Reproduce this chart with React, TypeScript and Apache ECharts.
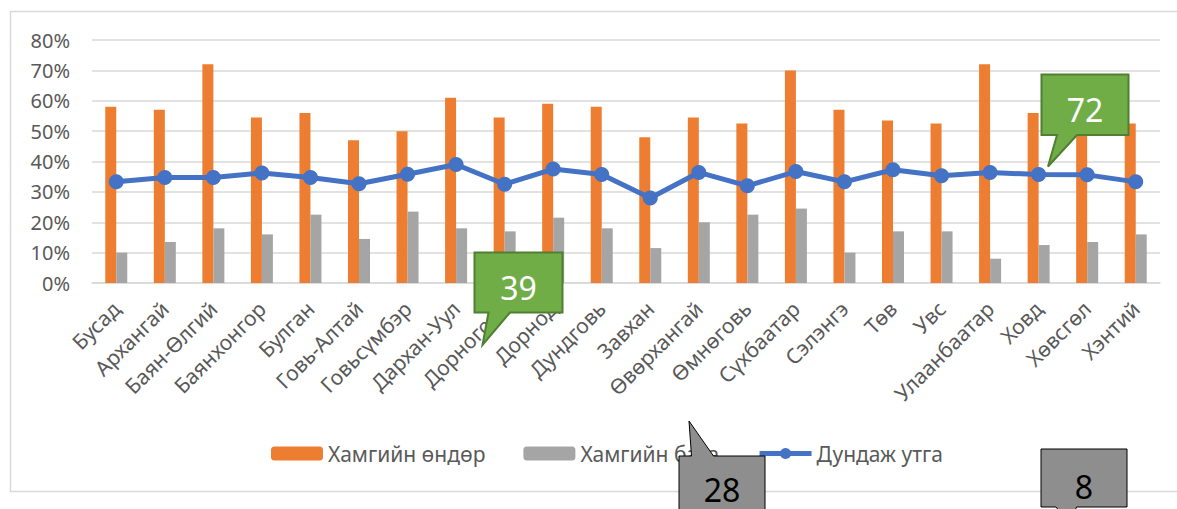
import React, { useEffect, useRef } from "react";
import * as echarts from "echarts";

const categories = [
  "Бусад", "Архангай", "Баян-Өлгий", "Баянхонгор", "Булган", "Говь-Алтай",
  "Говьсүмбэр", "Дархан-Уул", "Дорноговь", "Дорнод", "Дундговь", "Завхан",
  "Өвөрхангай", "Өмнөговь", "Сүхбаатар", "Сэлэнгэ", "Төв", "Увс",
  "Улаанбаатар", "Ховд", "Хөвсгөл", "Хэнтий",
];
const maxValues = [58, 57, 72, 54.5, 56, 47, 50, 61, 54.5, 59, 58, 48, 54.5, 52.5, 70, 57, 53.5, 52.5, 72, 56, 56, 52.5];
const minValues = [10, 13.5, 18, 16, 22.5, 14.5, 23.5, 18, 17, 21.5, 18, 11.5, 20, 22.5, 24.5, 10, 17, 17, 8, 12.5, 13.5, 16];
const avgValues = [33.3, 34.7, 34.7, 36.2, 34.7, 32.7, 35.8, 39, 32.5, 37.5, 35.7, 28, 36.4, 32, 36.7, 33.3, 37.3, 35.3, 36.4, 35.7, 35.6, 33.3];
const seriesNames = ["Хамгийн өндөр", "Хамгийн бага", "Дундаж утга"];
const yTicks = { min: 0, max: 80, interval: 10 };
const calloutTexts = ["39", "72", "28", "8"];

const FONT = "'Noto Sans', sans-serif";
const TEXT = "#595959";

export default function App() {
  const ref = useRef<HTMLDivElement>(null);
  useEffect(() => {
    if (!ref.current) return;
    const chart = echarts.init(ref.current, null, { renderer: "svg" });
    const green = { fill: "#70AD47", stroke: "#507E32", lineWidth: 2 };
    const gray = { fill: "#8E8E8E", stroke: "#000000", lineWidth: 1 };
    chart.setOption({
      animation: false,
      textStyle: { fontFamily: FONT },
      grid: { left: 92, right: 17, top: 40, bottom: 226, containLabel: false },
      legend: {
        left: 266,
        top: 438,
        itemGap: 38,
        itemWidth: 52,
        itemHeight: 14,
        textStyle: { color: TEXT, fontSize: 21, fontFamily: FONT },
        data: [
          { name: seriesNames[0] },
          { name: seriesNames[1] },
          { name: seriesNames[2], lineStyle: { width: 5, color: "#4472C4" } },
        ],
      },
      xAxis: {
        type: "category",
        data: categories,
        axisLine: { lineStyle: { color: "#D9D9D9", width: 1.5 } },
        axisTick: { show: false },
        axisLabel: {
          rotate: 45,
          color: TEXT,
          fontSize: 21,
          fontFamily: FONT,
          margin: 22,
          interval: 0,
        },
      },
      yAxis: {
        type: "value",
        min: yTicks.min,
        max: yTicks.max,
        interval: yTicks.interval,
        axisLine: { show: false },
        axisTick: { show: false },
        splitLine: { lineStyle: { color: "#D9D9D9", width: 1.5 } },
        axisLabel: {
          formatter: "{value}%",
          color: TEXT,
          fontSize: 20,
          fontFamily: FONT,
          margin: 22,
        },
      },
      series: [
        {
          name: seriesNames[0],
          type: "bar",
          data: maxValues,
          barWidth: 11,
          barGap: "0%",
          itemStyle: { color: "#ED7D31" },
        },
        {
          name: seriesNames[1],
          type: "bar",
          data: minValues,
          barWidth: 11,
          barGap: "0%",
          itemStyle: { color: "#A5A5A5" },
        },
        {
          name: seriesNames[2],
          type: "line",
          data: avgValues,
          symbol: "circle",
          symbolSize: 15,
          itemStyle: { color: "#4472C4" },
          lineStyle: { color: "#4472C4", width: 5 },
          z: 5,
        },
      ],
      graphic: [
        {
          type: "rect",
          z: 0,
          silent: true,
          shape: { x: 10.5, y: 11.5, width: 1200, height: 480 },
          style: { fill: "none", stroke: "#D9D9D9", lineWidth: 1.5 },
        },
        {
          type: "polygon",
          z: 100,
          shape: {
            points: [
              [474.5, 252.5], [562.5, 252.5], [562.5, 312.5], [510, 312.5],
              [482.5, 345], [488.5, 312.5], [474.5, 312.5],
            ],
          },
          style: green,
        },
        {
          type: "text",
          z: 101,
          x: 518.5,
          y: 287,
          style: {
            text: calloutTexts[0], fill: "#FFFFFF", fontSize: 32, fontFamily: FONT,
            align: "center", verticalAlign: "middle",
          },
        },
        {
          type: "polygon",
          z: 100,
          shape: {
            points: [
              [1041.5, 74.5], [1128.5, 74.5], [1128.5, 135], [1077, 135],
              [1048, 166.5], [1057, 135], [1041.5, 135],
            ],
          },
          style: green,
        },
        {
          type: "text",
          z: 101,
          x: 1085,
          y: 109,
          style: {
            text: calloutTexts[1], fill: "#FFFFFF", fontSize: 32, fontFamily: FONT,
            align: "center", verticalAlign: "middle",
          },
        },
        {
          type: "polygon",
          z: 100,
          shape: {
            points: [
              [679, 456], [691.5, 456], [689, 421], [713.5, 456],
              [765, 456], [765, 520], [679, 520],
            ],
          },
          style: gray,
        },
        {
          type: "text",
          z: 101,
          x: 722,
          y: 489,
          style: {
            text: calloutTexts[2], fill: "#000000", fontSize: 32, fontFamily: FONT,
            align: "center", verticalAlign: "middle",
          },
        },
        {
          type: "polygon",
          z: 100,
          shape: {
            points: [
              [1041, 449], [1127, 449], [1127, 507], [1076.5, 507],
              [1070, 525], [1056, 507], [1041, 507],
            ],
          },
          style: gray,
        },
        {
          type: "text",
          z: 101,
          x: 1084,
          y: 486,
          style: {
            text: calloutTexts[3], fill: "#000000", fontSize: 32, fontFamily: FONT,
            align: "center", verticalAlign: "middle",
          },
        },
      ],
    });
    return () => chart.dispose();
  }, []);
  return (
    <div
      ref={ref}
      style={{ position: "fixed", left: 0, top: 0, width: 1177, height: 509, background: "#FFFFFF" }}
    />
  );
}
